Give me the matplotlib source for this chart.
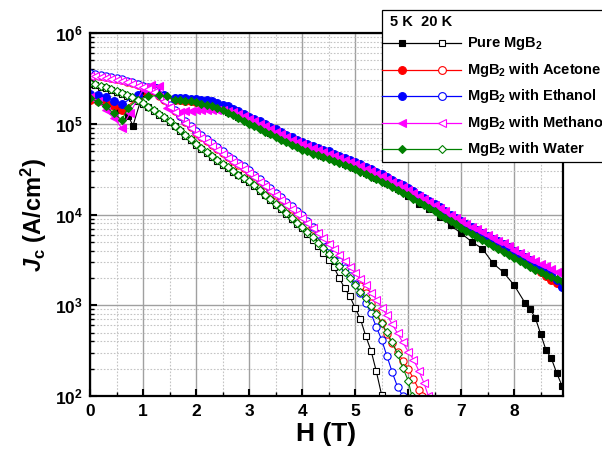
import matplotlib
matplotlib.use("Agg")
import numpy as np
import matplotlib.pyplot as plt
from matplotlib.lines import Line2D
from matplotlib.patches import Rectangle
from matplotlib.ticker import MultipleLocator, LogLocator

# === Data: Jc(H) at 5 K (filled) and 20 K (open) ===
SAMPLES = ["Pure MgB$_2$", "MgB$_2$ with Acetone", "MgB$_2$ with Ethanol",
           "MgB$_2$ with Methanol", "MgB$_2$ with Water"]
COLORS = ["#000000", "#ff0000", "#0000ff", "#ff00ff", "#008000"]
MARKERS = ["s", "o", "o", "<", "D"]

# --- 5 K, Jc in A/cm2 ---
# common field grid above the flux-jump region
H_MAIN_5K = [1.6, 1.7, 1.8, 1.9, 2.0, 2.1, 2.2, 2.3, 2.4, 2.5, 2.6, 2.7, 2.8, 2.9,
             3.0, 3.1, 3.2, 3.3, 3.4, 3.5, 3.6, 3.7, 3.8, 3.9,
             4.0, 4.1, 4.2, 4.3, 4.4, 4.5, 4.6, 4.7, 4.8, 4.9,
             5.0, 5.1, 5.2, 5.3, 5.4, 5.5, 5.6, 5.7, 5.8, 5.9,
             6.0, 6.1, 6.2, 6.3, 6.4, 6.5, 6.6, 6.7, 6.8, 6.9,
             7.0, 7.1, 7.2, 7.3, 7.4, 7.5, 7.6, 7.7, 7.8, 7.9,
             8.0, 8.1, 8.2, 8.3, 8.4, 8.5, 8.6, 8.7, 8.8, 8.9]

pure_5k_h = [0.0, 0.2, 0.4, 0.55, 0.72, 0.81, 1.0, 1.2, 1.4,
             1.6, 1.8, 2.0, 2.2, 2.4, 2.6, 2.8, 3.0, 3.2, 3.4, 3.6, 3.8, 4.0,
             4.2, 4.4, 4.6, 4.8, 5.0, 5.2, 5.4, 5.6, 5.8, 6.0,
             6.2, 6.4, 6.6, 6.8, 7.0, 7.2, 7.4, 7.6, 7.8, 8.0,
             8.2, 8.3, 8.4, 8.5, 8.6, 8.7, 8.8, 8.9]
pure_5k_jc = [2.0e5, 1.8e5, 1.6e5, 1.4e5, 1.23e5, 9.5e4, 2.2e5, 2.5e5, 2.0e5,
              1.85e5, 1.82e5, 1.76e5, 1.66e5, 1.52e5, 1.36e5, 1.2e5, 1.04e5,
              9.1e4, 8.0e4, 7.0e4, 6.1e4, 5.4e4, 4.9e4, 4.45e4, 4.05e4, 3.6e4,
              3.25e4, 2.88e4, 2.55e4, 2.2e4, 1.9e4, 1.6e4,
              1.32e4, 1.15e4, 9.5e3, 7.6e3, 6.2e3, 5.0e3, 4.2e3, 2.9e3, 2.3e3,
              1.66e3, 1.07e3, 910, 720, 480, 320, 260, 180, 130]

acetone_5k_h = [0.0, 0.15, 0.3, 0.45, 0.6, 0.9, 1.1, 1.25, 1.4] + H_MAIN_5K
acetone_5k_jc = [1.85e5, 1.8e5, 1.7e5, 1.55e5, 1.4e5, 1.9e5, 2.2e5, 2.3e5, 2.0e5,
                 1.82e5, 1.81e5, 1.80e5, 1.78e5, 1.75e5, 1.72e5, 1.68e5, 1.62e5,
                 1.56e5, 1.49e5, 1.42e5, 1.34e5, 1.26e5, 1.17e5,
                 1.09e5, 1.02e5, 9.6e4, 9.0e4, 8.4e4, 7.8e4, 7.3e4, 6.85e4, 6.4e4, 6.05e4,
                 5.7e4, 5.4e4, 5.15e4, 4.9e4, 4.7e4, 4.45e4, 4.25e4, 4.0e4, 3.8e4, 3.6e4,
                 3.42e4, 3.2e4, 3.02e4, 2.83e4, 2.66e4, 2.5e4, 2.34e4, 2.18e4, 2.03e4, 1.89e4,
                 1.76e4, 1.62e4, 1.49e4, 1.38e4, 1.28e4, 1.18e4, 1.08e4, 9.9e3, 9.0e3, 8.3e3,
                 7.6e3, 7.1e3, 6.6e3, 6.15e3, 5.7e3, 5.3e3, 4.9e3, 4.55e3, 4.25e3, 3.9e3,
                 3.6e3, 3.3e3, 3.05e3, 2.8e3, 2.6e3, 2.35e3, 2.1e3, 1.9e3, 1.75e3, 1.65e3]

ethanol_5k_h = [0.0, 0.15, 0.3, 0.45, 0.6, 0.9, 1.1, 1.25, 1.4] + H_MAIN_5K
ethanol_5k_jc = [2.15e5, 2.05e5, 1.95e5, 1.8e5, 1.65e5, 2.1e5, 2.4e5, 2.5e5, 2.1e5,
                 1.92e5, 1.91e5, 1.90e5, 1.89e5, 1.88e5, 1.85e5, 1.82e5, 1.76e5,
                 1.70e5, 1.62e5, 1.55e5, 1.46e5, 1.38e5, 1.29e5,
                 1.20e5, 1.13e5, 1.06e5, 9.9e4, 9.3e4, 8.7e4, 8.1e4, 7.6e4, 7.1e4, 6.7e4,
                 6.3e4, 6.0e4, 5.7e4, 5.45e4, 5.2e4, 4.95e4, 4.7e4, 4.45e4, 4.2e4, 4.0e4,
                 3.8e4, 3.57e4, 3.35e4, 3.15e4, 2.95e4, 2.77e4, 2.6e4, 2.42e4, 2.25e4, 2.1e4,
                 1.95e4, 1.8e4, 1.65e4, 1.53e4, 1.42e4, 1.31e4, 1.2e4, 1.1e4, 1.0e4, 9.2e3,
                 8.4e3, 7.85e3, 7.3e3, 6.8e3, 6.3e3, 5.85e3, 5.4e3, 5.05e3, 4.7e3, 4.35e3,
                 4.0e3, 3.7e3, 3.4e3, 3.15e3, 2.9e3, 2.65e3, 2.4e3, 2.15e3, 1.9e3, 1.6e3]

methanol_5k_h = [0.0, 0.15, 0.3, 0.45, 0.6, 0.75, 1.0, 1.15, 1.3, 1.45] + H_MAIN_5K
methanol_5k_jc = [1.95e5, 1.8e5, 1.4e5, 1.15e5, 9.0e4, 1.3e5, 2.4e5, 2.7e5, 2.6e5, 1.5e5,
                  1.35e5, 1.36e5, 1.38e5, 1.39e5, 1.40e5, 1.41e5, 1.42e5, 1.42e5,
                  1.42e5, 1.41e5, 1.38e5, 1.34e5, 1.28e5, 1.21e5,
                  1.13e5, 1.06e5, 1.0e5, 9.4e4, 8.8e4, 8.2e4, 7.7e4, 7.2e4, 6.7e4, 6.3e4,
                  5.95e4, 5.65e4, 5.4e4, 5.15e4, 4.9e4, 4.65e4, 4.45e4, 4.2e4, 4.0e4, 3.8e4,
                  3.6e4, 3.4e4, 3.2e4, 3.0e4, 2.8e4, 2.64e4, 2.48e4, 2.3e4, 2.15e4, 2.0e4,
                  1.87e4, 1.73e4, 1.6e4, 1.49e4, 1.38e4, 1.27e4, 1.17e4, 1.08e4, 9.9e3, 9.1e3,
                  8.4e3, 7.85e3, 7.3e3, 6.85e3, 6.4e3, 5.95e3, 5.5e3, 5.15e3, 4.8e3, 4.45e3,
                  4.1e3, 3.8e3, 3.5e3, 3.25e3, 3.05e3, 2.85e3, 2.7e3, 2.5e3, 2.35e3, 2.2e3]

water_5k_h = [0.0, 0.15, 0.3, 0.45, 0.6, 0.72, 0.9, 1.1, 1.3, 1.45] + H_MAIN_5K
water_5k_jc = [1.9e5, 1.75e5, 1.55e5, 1.3e5, 1.1e5, 1.5e5, 1.85e5, 2.0e5, 2.05e5, 2.0e5,
               1.85e5, 1.83e5, 1.80e5, 1.76e5, 1.72e5, 1.67e5, 1.62e5, 1.55e5,
               1.48e5, 1.40e5, 1.32e5, 1.24e5, 1.16e5, 1.08e5,
               1.0e5, 9.4e4, 8.8e4, 8.2e4, 7.7e4, 7.2e4, 6.7e4, 6.3e4, 5.9e4, 5.55e4,
               5.2e4, 4.95e4, 4.7e4, 4.5e4, 4.3e4, 4.1e4, 3.9e4, 3.7e4, 3.5e4, 3.32e4,
               3.15e4, 2.96e4, 2.78e4, 2.61e4, 2.45e4, 2.3e4, 2.16e4, 2.01e4, 1.87e4, 1.74e4,
               1.62e4, 1.49e4, 1.37e4, 1.27e4, 1.18e4, 1.09e4, 1.0e4, 9.2e3, 8.5e3, 7.8e3,
               7.1e3, 6.6e3, 6.1e3, 5.65e3, 5.25e3, 4.85e3, 4.5e3, 4.2e3, 3.9e3, 3.6e3,
               3.35e3, 3.1e3, 2.85e3, 2.65e3, 2.45e3, 2.3e3, 2.15e3, 2.05e3, 1.95e3, 1.85e3]

# --- 20 K, read as log10(Jc) off the log axis ---
H_20K = [0.0, 0.1, 0.2, 0.3, 0.4, 0.5, 0.6, 0.7, 0.8, 0.9,
         1.0, 1.1, 1.2, 1.3, 1.4, 1.5, 1.6, 1.7, 1.8, 1.9,
         2.0, 2.1, 2.2, 2.3, 2.4, 2.5, 2.6, 2.7, 2.8, 2.9,
         3.0, 3.1, 3.2, 3.3, 3.4, 3.5, 3.6, 3.7, 3.8, 3.9,
         4.0, 4.1, 4.2, 4.3, 4.4, 4.5, 4.6, 4.7, 4.8, 4.9, 5.0]

pure_20k_h = H_20K + [5.1, 5.2, 5.3, 5.4, 5.5]
pure_20k_logjc = [5.44, 5.425, 5.41, 5.39, 5.37, 5.35, 5.33, 5.305, 5.28, 5.25,
                  5.22, 5.18, 5.14, 5.10, 5.06, 5.015, 4.97, 4.92, 4.87, 4.82,
                  4.77, 4.725, 4.68, 4.635, 4.59, 4.55, 4.51, 4.47, 4.43, 4.395,
                  4.36, 4.31, 4.26, 4.21, 4.16, 4.11, 4.06, 4.005, 3.95, 3.90,
                  3.85, 3.785, 3.72, 3.65, 3.58, 3.50, 3.42, 3.30, 3.19, 3.10,
                  2.97, 2.85, 2.66, 2.50, 2.27, 2.01]

acetone_20k_h = H_20K + [5.1, 5.2, 5.3, 5.4, 5.5, 5.6, 5.7, 5.8, 5.9, 6.0,
                         6.1, 6.2, 6.27]
acetone_20k_logjc = [5.54, 5.535, 5.53, 5.515, 5.50, 5.49, 5.48, 5.465, 5.45, 5.43,
                     5.41, 5.39, 5.36, 5.31, 5.26, 5.20, 5.14, 5.08, 5.02, 4.96,
                     4.90, 4.855, 4.81, 4.765, 4.72, 4.675, 4.63, 4.59, 4.55, 4.51,
                     4.47, 4.42, 4.37, 4.32, 4.27, 4.22, 4.17, 4.115, 4.06, 4.005,
                     3.95, 3.895, 3.84, 3.78, 3.72, 3.66, 3.60, 3.53, 3.46, 3.38,
                     3.30, 3.215, 3.13, 3.03, 2.92, 2.80, 2.68, 2.58, 2.48, 2.39,
                     2.30, 2.19, 2.07, 2.0]

ethanol_20k_h = H_20K + [5.1, 5.2, 5.3, 5.4, 5.5, 5.6, 5.7, 5.8, 5.9]
ethanol_20k_logjc = [5.56, 5.55, 5.54, 5.525, 5.51, 5.50, 5.49, 5.475, 5.46, 5.44,
                     5.42, 5.40, 5.37, 5.32, 5.27, 5.21, 5.15, 5.09, 5.03, 4.975,
                     4.92, 4.875, 4.83, 4.785, 4.74, 4.695, 4.65, 4.61, 4.57, 4.53,
                     4.49, 4.44, 4.39, 4.34, 4.29, 4.24, 4.19, 4.14, 4.09, 4.04,
                     3.99, 3.93, 3.86, 3.79, 3.72, 3.65, 3.57, 3.49, 3.41, 3.32,
                     3.23, 3.13, 3.03, 2.91, 2.76, 2.62, 2.44, 2.26, 2.10, 2.0]

methanol_20k_h = H_20K + [5.1, 5.2, 5.3, 5.4, 5.5, 5.6, 5.7, 5.8, 5.9, 6.0,
                          6.1, 6.2, 6.3, 6.38]
methanol_20k_logjc = [5.53, 5.525, 5.52, 5.505, 5.49, 5.48, 5.47, 5.455, 5.44, 5.42,
                      5.40, 5.38, 5.35, 5.30, 5.25, 5.19, 5.13, 5.07, 5.01, 4.95,
                      4.89, 4.845, 4.80, 4.755, 4.71, 4.665, 4.62, 4.58, 4.54, 4.50,
                      4.46, 4.41, 4.36, 4.31, 4.26, 4.21, 4.16, 4.11, 4.06, 4.01,
                      3.96, 3.905, 3.85, 3.795, 3.74, 3.68, 3.62, 3.555, 3.49, 3.425,
                      3.36, 3.29, 3.22, 3.14, 3.06, 2.975, 2.89, 2.79, 2.69, 2.59,
                      2.49, 2.40, 2.28, 2.14, 2.0]

water_20k_h = H_20K + [5.1, 5.2, 5.3, 5.4, 5.5, 5.6, 5.7, 5.8, 5.9, 6.0, 6.07]
water_20k_logjc = [5.45, 5.435, 5.42, 5.40, 5.38, 5.36, 5.34, 5.315, 5.29, 5.26,
                   5.23, 5.19, 5.15, 5.11, 5.07, 5.025, 4.98, 4.93, 4.88, 4.83,
                   4.78, 4.735, 4.69, 4.645, 4.60, 4.56, 4.52, 4.48, 4.44, 4.405,
                   4.37, 4.32, 4.27, 4.22, 4.17, 4.12, 4.07, 4.015, 3.96, 3.91,
                   3.86, 3.805, 3.75, 3.69, 3.63, 3.565, 3.50, 3.435, 3.37, 3.295,
                   3.22, 3.15, 3.08, 2.99, 2.90, 2.80, 2.70, 2.59, 2.46, 2.31,
                   2.17, 2.0]

DATA_5K = [(pure_5k_h, pure_5k_jc), (acetone_5k_h, acetone_5k_jc),
           (ethanol_5k_h, ethanol_5k_jc), (methanol_5k_h, methanol_5k_jc),
           (water_5k_h, water_5k_jc)]
DATA_20K = [(pure_20k_h, pure_20k_logjc), (acetone_20k_h, acetone_20k_logjc),
            (ethanol_20k_h, ethanol_20k_logjc), (methanol_20k_h, methanol_20k_logjc),
            (water_20k_h, water_20k_logjc)]

# === Style ===
plt.rcParams["font.family"] = ["Liberation Sans", "DejaVu Sans"]
plt.rcParams["font.weight"] = "bold"
plt.rcParams["mathtext.fontset"] = "custom"
plt.rcParams["mathtext.rm"] = "Liberation Sans:bold"
plt.rcParams["mathtext.bf"] = "Liberation Sans:bold"
plt.rcParams["mathtext.it"] = "Liberation Sans:italic:bold"

W, H = 602, 459
fig = plt.figure(figsize=(W / 100, H / 100), dpi=100)
ax = fig.add_axes([90 / W, 63 / H, 473 / W, 363 / H])

MS5 = {"s": 5.0, "o": 5.6, "<": 6.0, "D": 4.2}
MS20 = {"s": 4.6, "o": 5.2, "<": 5.6, "D": 4.0}

for i in range(len(SAMPLES)):
    c, m = COLORS[i], MARKERS[i]
    h5, j5 = DATA_5K[i]
    ax.plot(h5, j5, color=c, marker=m, ms=MS5[m], mfc=c, mec=c, mew=0.8, lw=0.8)
    h20, lj20 = DATA_20K[i]
    ax.plot(h20, 10 ** np.array(lj20), color=c, marker=m, ms=MS20[m],
            mfc="white", mec=c, mew=0.8, lw=0.8)

ax.set_yscale("log")
ax.set_xlim(0, 8.92)
ax.set_ylim(1e2, 1e6)
ax.xaxis.set_major_locator(MultipleLocator(1))
ax.xaxis.set_minor_locator(MultipleLocator(0.5))
ax.yaxis.set_major_locator(LogLocator(base=10, numticks=10))
ax.yaxis.set_minor_locator(LogLocator(base=10, subs=np.arange(2, 10), numticks=20))
ax.tick_params(which="both", direction="in", top=False, right=False, labelsize=12.5)
ax.tick_params(which="major", length=5, width=1.5)
ax.tick_params(which="minor", length=3, width=1.0)
ax.tick_params(axis="x", pad=6)
ax.tick_params(axis="y", pad=5)

ax.set_axisbelow(True)
ax.grid(which="major", color="#a0a0a0", lw=1.0, ls="-")
ax.grid(which="minor", color="#c4c4c4", lw=0.8, ls=(0, (1.5, 1.5)))
for s in ax.spines.values():
    s.set_linewidth(1.6)

ax.set_xlabel("H (T)", fontsize=19, fontweight="bold", labelpad=2)
ax.set_ylabel(r"$\mathit{J}_{\mathrm{c}}$ (A/cm$^{\mathrm{2}}$)", fontsize=17,
              fontweight="bold", labelpad=4)

# === Legend drawn by hand (box runs off the right edge like the original) ===
def fxy(px, py):
    return px / W, 1 - py / H

box_x0, box_y0 = fxy(382, 162)
box_x1, box_y1 = fxy(610, 10)
fig.add_artist(Rectangle((box_x0, box_y0), box_x1 - box_x0, box_y1 - box_y0,
                         transform=fig.transFigure, facecolor="white",
                         edgecolor="black", lw=0.9, zorder=5))
tx, ty = fxy(390, 22)
fig.text(tx, ty, "5 K  20 K", fontsize=10.5, va="center", ha="left", zorder=6)

row_y = [43, 70, 96, 123, 149]
for i in range(len(SAMPLES)):
    c, m = COLORS[i], MARKERS[i]
    xa, ya = fxy(382, row_y[i])
    xb, _ = fxy(461, row_y[i])
    fig.add_artist(Line2D([xa, xb], [ya, ya], transform=fig.transFigure,
                          color=c, lw=0.9, zorder=6))
    x5, _ = fxy(402, row_y[i])
    x20, _ = fxy(442, row_y[i])
    fig.add_artist(Line2D([x5], [ya], transform=fig.transFigure, color=c,
                          marker=m, ms=MS5[m], mfc=c, mec=c, mew=0.8, zorder=7))
    fig.add_artist(Line2D([x20], [ya], transform=fig.transFigure, color=c,
                          marker=m, ms=MS5[m], mfc="white", mec=c, mew=0.8, zorder=7))
    lx, _ = fxy(467, row_y[i])
    fig.text(lx, ya, SAMPLES[i], fontsize=10.5, va="center", ha="left", zorder=7)

fig.savefig("out.png", dpi=100)
